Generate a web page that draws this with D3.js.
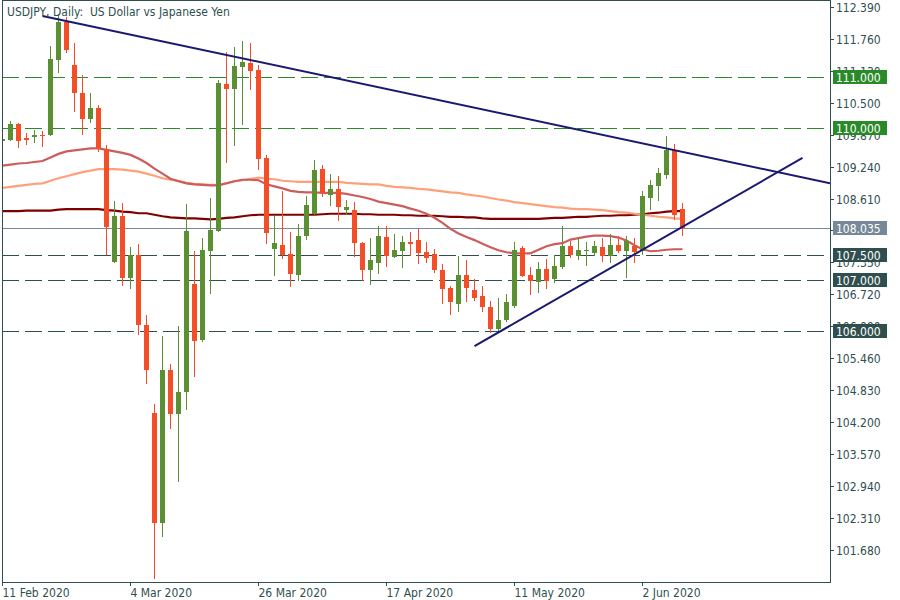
<!DOCTYPE html>
<html><head><meta charset="utf-8">
<script src="https://cdn.jsdelivr.net/npm/d3@7/dist/d3.min.js"></script>
<style>
body{margin:0;background:#fff}
svg{display:block}
text{font-family:"DejaVu Sans Condensed","DejaVu Sans",sans-serif;font-size:12px}
</style>
</head><body>
<svg id="chart" width="900" height="600"></svg>
<script>
// ---------- DATA ----------
const title = "USDJPY, Daily:  US Dollar vs Japanese Yen";
const xTickIndex = [0, 16, 32, 48, 64, 80];
const xTickLabels = ["11 Feb 2020", "4 Mar 2020", "26 Mar 2020", "17 Apr 2020", "11 May 2020", "2 Jun 2020"];
const yTicks = [112.39, 111.76, 111.13, 110.50, 109.87, 109.24, 108.61, 107.98, 107.35, 106.72, 106.09, 105.46, 104.83, 104.20, 103.57, 102.94, 102.31, 101.68];

const open = [109.74,109.77,110.08,109.81,109.83,109.86,109.86,111.34,112.09,111.24,
  110.69,110.18,110.39,109.59,107.36,108.26,107.04,107.50,106.11,104.39,
  102.22,105.22,104.37,104.79,106.92,105.83,107.57,107.96,110.87,110.76,
  111.21,111.28,111.14,109.41,107.61,107.70,107.51,107.10,107.87,108.31,
  109.19,108.68,108.79,108.38,108.38,107.73,107.20,107.34,107.86,107.46,
  107.57,107.75,107.79,107.55,107.51,107.21,106.84,106.53,107.11,106.80,
  106.68,106.48,106.03,106.21,106.49,107.63,107.11,106.97,107.23,107.02,
  107.25,107.67,107.48,107.58,107.53,107.65,107.47,107.69,107.57,107.67,
  107.57,108.62,108.85,109.07,109.56,108.40];
const high = [109.80,110.14,110.09,109.90,109.96,109.94,111.61,112.25,112.19,111.68,
  111.05,110.69,110.45,109.66,108.56,108.52,107.66,107.72,106.32,104.56,
  105.89,105.35,106.09,108.50,107.57,107.84,108.63,110.95,111.49,111.60,
  111.72,111.68,111.24,109.47,108.26,108.75,107.94,108.10,108.65,109.37,
  109.27,109.09,109.05,108.58,108.54,107.75,107.84,108.06,108.06,107.92,
  107.88,107.94,108.00,107.75,107.61,107.31,106.88,107.47,107.39,107.03,
  106.88,106.58,106.64,106.72,107.75,107.67,107.25,107.35,107.41,107.49,
  108.06,107.77,107.83,107.75,107.77,107.84,107.92,107.88,107.87,107.84,
  108.75,108.97,109.21,109.84,109.68,108.52];
const low = [109.70,109.74,109.61,109.66,109.71,109.63,109.84,111.09,111.47,110.32,
  109.87,110.10,109.53,107.49,107.34,106.88,106.82,105.91,104.95,101.11,
  101.94,104.06,103.03,104.45,105.10,105.78,106.72,107.94,109.31,109.65,
  110.06,110.74,109.17,107.71,107.08,107.42,106.86,106.98,107.79,108.29,
  108.64,108.46,108.17,108.29,107.46,106.98,106.90,107.12,107.26,107.44,
  107.24,107.47,107.32,107.34,107.14,106.53,106.31,106.37,106.57,106.59,
  106.37,105.95,105.99,106.18,106.46,107.06,106.70,106.74,106.83,106.95,
  107.23,107.43,107.40,107.27,107.48,107.35,107.33,107.53,107.04,107.33,
  107.49,108.38,108.57,108.99,108.18,107.88];
const close = [109.78,110.08,109.75,109.76,109.86,109.84,111.36,112.09,111.54,110.70,
  110.18,110.39,109.59,108.05,108.26,107.04,107.50,106.11,105.22,102.22,
  105.22,104.37,104.80,107.96,105.81,107.59,107.98,110.89,110.76,111.22,
  111.30,111.13,109.39,107.93,107.73,107.49,107.12,107.88,108.48,109.17,
  108.72,108.79,108.44,108.44,107.73,107.20,107.39,107.88,107.47,107.59,
  107.75,107.71,107.53,107.44,107.20,106.82,106.57,107.11,106.84,106.65,
  106.47,106.03,106.22,106.56,107.60,107.08,106.98,107.23,106.99,107.27,
  107.67,107.49,107.59,107.59,107.67,107.48,107.69,107.57,107.77,107.55,
  108.66,108.87,109.11,109.56,108.28,108.035];

const maFast = [109.26,109.28,109.30,109.31,109.33,109.35,109.42,109.49,109.54,109.56,
  109.58,109.60,109.60,109.57,109.54,109.51,109.47,109.40,109.31,109.20,
  109.10,109.00,108.95,108.91,108.89,108.88,108.87,108.87,108.91,108.95,
  108.98,108.98,108.97,108.89,108.85,108.81,108.76,108.74,108.73,108.73,
  108.72,108.72,108.72,108.70,108.67,108.64,108.60,108.55,108.52,108.49,
  108.46,108.41,108.37,108.31,108.23,108.13,108.01,107.92,107.85,107.79,
  107.72,107.65,107.59,107.55,107.53,107.53,107.53,107.60,107.67,107.71,
  107.73,107.80,107.83,107.86,107.88,107.88,107.87,107.84,107.78,107.69,
  107.61,107.57,107.58,107.60,107.61,107.61];
const maMid = [108.82,108.84,108.86,108.88,108.90,108.91,108.96,109.01,109.05,109.09,
  109.13,109.16,109.19,109.19,109.19,109.18,109.16,109.14,109.10,109.06,
  109.01,108.98,108.96,108.92,108.90,108.89,108.88,108.88,108.91,108.95,
  108.97,109.00,109.02,109.00,108.99,108.96,108.95,108.94,108.94,108.94,
  108.94,108.94,108.94,108.92,108.91,108.90,108.89,108.89,108.86,108.84,
  108.83,108.82,108.80,108.79,108.77,108.75,108.73,108.72,108.69,108.67,
  108.65,108.62,108.59,108.57,108.54,108.52,108.50,108.48,108.46,108.44,
  108.43,108.41,108.40,108.40,108.39,108.38,108.36,108.34,108.33,108.31,
  108.29,108.27,108.25,108.24,108.22,108.21];
const maSlow = [108.36,108.36,108.36,108.37,108.37,108.37,108.37,108.39,108.40,108.40,
  108.40,108.40,108.40,108.38,108.37,108.35,108.34,108.32,108.32,108.29,
  108.26,108.24,108.23,108.22,108.22,108.21,108.20,108.21,108.23,108.24,
  108.26,108.28,108.29,108.29,108.29,108.29,108.29,108.29,108.29,108.29,
  108.30,108.31,108.31,108.31,108.31,108.30,108.30,108.29,108.29,108.29,
  108.28,108.28,108.27,108.27,108.27,108.26,108.25,108.25,108.24,108.24,
  108.22,108.21,108.21,108.21,108.21,108.21,108.21,108.21,108.22,108.23,
  108.23,108.24,108.25,108.25,108.26,108.27,108.27,108.28,108.28,108.29,
  108.30,108.32,108.33,108.35,108.36,108.36];

// trend lines: [barIndex, price]
const downTrend = [[5, 112.21], [85, 109.53]];
const upTrend = [[59, 105.70], [100, 109.41]];

// horizontal levels
const levels = [
  {price: 111.000, kind: "res"},
  {price: 110.000, kind: "res"},
  {price: 107.500, kind: "sup"},
  {price: 107.000, kind: "sup"},
  {price: 106.000, kind: "sup"}
];
const currentPrice = 108.035;

// ---------- STYLE ----------
const C = {
  up: "#5a9032", down: "#f44e28", frame: "#2f4f4f", text: "#2f4f4f",
  res: "#2a8a2a", sup: "#2f4f4f", cur: "#778899",
  maFast: "#cd5c5c", maMid: "#ffa07a", maSlow: "#800000", trend: "#191970"
};
const L = 2, R = 830, T = 0, B = 582;

const svg = d3.select("#chart");
const x = d3.scaleLinear().domain([0, 85]).range([2.5, 682.5]);
const y = d3.scaleLinear().domain([112.39, 101.68]).range([6.8, 550]);
const xMax = x.invert(R);

svg.append("defs").append("clipPath").attr("id", "clip")
  .append("rect").attr("x", L + 0.5).attr("y", T).attr("width", R - L - 0.5).attr("height", B - T);

const plot = svg.append("g").attr("clip-path", "url(#clip)");
const crisp = v => Math.round(v) + 0.5;

// horizontal levels (dashed)
levels.forEach(lv => {
  plot.append("line")
    .attr("x1", L).attr("x2", R)
    .attr("y1", crisp(y(lv.price))).attr("y2", crisp(y(lv.price)))
    .attr("stroke", lv.kind === "res" ? C.res : C.sup)
    .attr("stroke-width", 1).attr("stroke-dasharray", "17,6");
});
// current price line
plot.append("line").attr("x1", L).attr("x2", R)
  .attr("y1", crisp(y(currentPrice))).attr("y2", crisp(y(currentPrice)))
  .attr("stroke", C.cur).attr("stroke-width", 1);

// moving averages
const idx = d3.range(open.length);
const lineGen = arr => d3.line().x(i => x(i)).y(i => y(arr[i]))(idx);
[[maSlow, C.maSlow], [maMid, C.maMid], [maFast, C.maFast]].forEach(([arr, col]) => {
  plot.append("path").attr("d", lineGen(arr)).attr("fill", "none")
    .attr("stroke", col).attr("stroke-width", 2.2);
});

// candles
const g = plot.append("g").attr("shape-rendering", "crispEdges");
idx.forEach(i => {
  const up = close[i] >= open[i];
  const col = up ? C.up : C.down;
  const cx = Math.round(x(i) - 0.5);
  g.append("rect").attr("x", cx).attr("width", 1)
    .attr("y", y(high[i])).attr("height", Math.max(1, y(low[i]) - y(high[i])))
    .attr("fill", col);
  const top = y(Math.max(open[i], close[i])), bot = y(Math.min(open[i], close[i]));
  g.append("rect").attr("x", cx - 2).attr("width", 5)
    .attr("y", top).attr("height", Math.max(1, bot - top))
    .attr("fill", col);
});

// trend lines
const trendPath = (pts, extend) => {
  const [a, b] = pts;
  let x2 = b[0], p2 = b[1];
  if (extend) { x2 = xMax; p2 = a[1] + (b[1] - a[1]) * (xMax - a[0]) / (b[0] - a[0]); }
  return [[x(a[0]), y(a[1])], [x(x2), y(p2)]];
};
[[downTrend, true], [upTrend, false]].forEach(([pts, ext]) => {
  const seg = trendPath(pts, ext);
  plot.append("line").attr("x1", seg[0][0]).attr("y1", seg[0][1])
    .attr("x2", seg[1][0]).attr("y2", seg[1][1])
    .attr("stroke", C.trend).attr("stroke-width", 2);
});

// frame
svg.append("rect").attr("x", L + 0.5).attr("y", T + 0.5).attr("width", R - L).attr("height", B - T)
  .attr("fill", "none").attr("stroke", C.frame).attr("stroke-width", 1);

// y axis ticks/labels
const yAxisG = svg.append("g");
yTicks.forEach(v => {
  const yy = crisp(y(v));
  yAxisG.append("line").attr("x1", R).attr("x2", R + 4).attr("y1", yy).attr("y2", yy)
    .attr("stroke", C.frame);
  yAxisG.append("text").attr("x", R + 6).attr("y", yy).attr("dy", "0.36em")
    .attr("fill", C.text).text(v.toFixed(3));
});

// level labels (drawn over the axis labels, as in the terminal)
const boxes = levels.map(l => ({price: l.price, col: l.kind === "res" ? C.res : C.sup}))
  .concat([{price: currentPrice, col: C.cur}]);
boxes.forEach(b => {
  const yy = crisp(y(b.price));
  svg.append("rect").attr("x", R + 3).attr("y", yy - 7.5).attr("width", 54).attr("height", 14)
    .attr("fill", b.col);
  svg.append("text").attr("x", R + 6).attr("y", yy).attr("dy", "0.36em")
    .attr("fill", "#ffffff").text(b.price.toFixed(3));
});

// x axis ticks/labels
xTickIndex.forEach((k, j) => {
  const xx = crisp(x(k) - 0.5);
  svg.append("line").attr("x1", xx).attr("x2", xx).attr("y1", B).attr("y2", B + 4)
    .attr("stroke", C.frame);
  svg.append("text").attr("x", xx).attr("y", 597).attr("fill", C.text).text(xTickLabels[j]);
});

// title
svg.append("text").attr("x", 7).attr("y", 16).attr("fill", C.text)
  .style("white-space", "pre").attr("xml:space", "preserve").text(title);
</script>
</body></html>
